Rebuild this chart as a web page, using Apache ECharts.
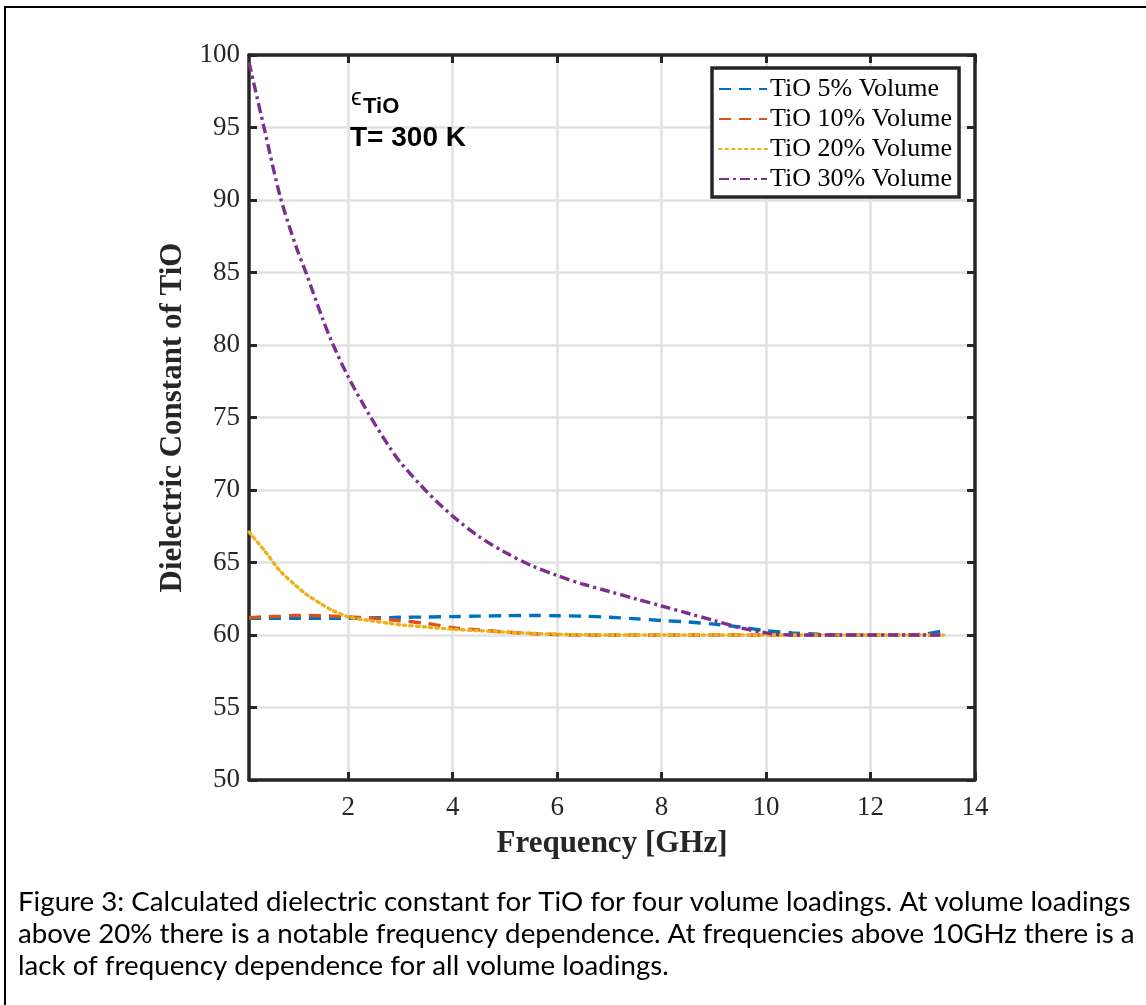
<!DOCTYPE html>
<html>
<head>
<meta charset="utf-8">
<script src="https://cdn.jsdelivr.net/npm/echarts@6/dist/echarts.min.js"></script>
<style>
  html, body { margin: 0; padding: 0; background: #fff; }
  #chart { width: 1146px; height: 1005px; }
</style>
</head>
<body>
<div id="chart"></div>
<script>
// ---- data ----
const freq = [0.1, 0.4, 0.7, 1.0, 1.2, 1.5, 1.7, 2.0, 2.4, 2.8, 3.0, 3.5, 4.0, 4.5, 5.0, 5.5, 6.0, 6.5, 7.0, 7.5, 8.0, 8.5, 9.0, 9.5, 10.0, 10.5, 11.0, 11.5, 12.0, 12.5, 13.0, 13.4];
const tio5  = [61.15, 61.15, 61.15, 61.15, 61.15, 61.15, 61.15, 61.15, 61.18, 61.2, 61.22, 61.24, 61.27, 61.3, 61.33, 61.35, 61.33, 61.3, 61.22, 61.12, 61.0, 60.9, 60.75, 60.55, 60.3, 60.15, 60.05, 60.0, 59.98, 60.0, 60.05, 60.3];
const tio10 = [61.2, 61.25, 61.3, 61.35, 61.35, 61.33, 61.3, 61.25, 61.18, 61.05, 60.98, 60.8, 60.5, 60.35, 60.2, 60.1, 60.03, 60.0, 60.0, 60.0, 60.0, 60.0, 60.0, 60.0, 60.0, 60.0, 60.0, 60.0, 60.0, 60.0, 60.0, 60.0];
const tio20 = [67.1, 65.8, 64.4, 63.4, 62.8, 62.1, 61.7, 61.25, 61.0, 60.8, 60.7, 60.55, 60.4, 60.3, 60.2, 60.12, 60.05, 60.02, 60.0, 60.0, 60.0, 60.0, 60.0, 60.0, 60.0, 60.0, 60.0, 60.0, 60.0, 60.0, 60.0, 60.0];
const tio30 = [99.5, 94.8, 90.2, 86.8, 84.9, 81.9, 80.1, 77.8, 75.2, 72.9, 71.9, 69.9, 68.2, 66.8, 65.7, 64.8, 64.1, 63.5, 63.0, 62.5, 62.0, 61.5, 61.0, 60.5, 60.15, 60.0, 60.0, 60.0, 60.0, 60.0, 60.0, 60.0];
const seriesNames = ['TiO 5% Volume', 'TiO 10% Volume', 'TiO 20% Volume', 'TiO 30% Volume'];
const xTicks = [2, 4, 6, 8, 10, 12, 14];
const captionLines = [
  'Figure 3: Calculated dielectric constant for TiO for four volume loadings. At volume loadings',
  'above 20% there is a notable frequency dependence. At frequencies above 10GHz there is a',
  'lack of frequency dependence for all volume loadings.'
];

const pairs = ys => freq.map((x, i) => [x, ys[i]]);
const axisColor = '#262626';
const serif = 'Liberation Serif';

const chart = echarts.init(document.getElementById('chart'));

const baseX = {
  type: 'value', min: 0.1, max: 14,
  axisLine: { show: true, onZero: false, lineStyle: { color: axisColor, width: 3.5 } },
  axisTick: { show: true, inside: true, length: 8, customValues: xTicks, lineStyle: { color: axisColor, width: 3 } }
};
const baseY = {
  type: 'value', min: 50, max: 100, interval: 5,
  axisLine: { show: true, onZero: false, lineStyle: { color: axisColor, width: 3.5 } },
  axisTick: { show: true, inside: true, length: 8, lineStyle: { color: axisColor, width: 3 } }
};

const colors = ['#0072BD', '#D95319', '#EDB120', '#7E2F8E'];
const dashes = [[12, 8], [12, 8], [2.5, 4], [10, 4, 3, 4]];
const datasets = [tio5, tio10, tio20, tio30];

chart.setOption({
  animation: false,
  backgroundColor: '#fff',
  grid: { left: 249, right: 171, top: 55, bottom: 225, containLabel: false },
  xAxis: [
    Object.assign({}, baseX, {
      position: 'bottom',
      name: 'Frequency [GHz]', nameLocation: 'middle', nameGap: 48,
      nameTextStyle: { fontFamily: serif, fontWeight: 'bold', fontSize: 31, color: axisColor },
      axisLabel: { show: true, customValues: xTicks, margin: 14, fontFamily: serif, fontSize: 27, color: axisColor },
      splitLine: { show: true, lineStyle: { color: '#e2e2e2', width: 2.5 } }
    }),
    Object.assign({}, baseX, {
      position: 'top',
      axisLabel: { show: false },
      splitLine: { show: false }
    })
  ],
  yAxis: [
    Object.assign({}, baseY, {
      position: 'left',
      name: 'Dielectric Constant of TiO', nameLocation: 'middle', nameGap: 43,
      nameTextStyle: { fontFamily: serif, fontWeight: 'bold', fontSize: 31, color: axisColor },
      axisLabel: { show: true, margin: 9, fontFamily: serif, fontSize: 27, color: axisColor },
      splitLine: { show: true, lineStyle: { color: '#e2e2e2', width: 2.5 } }
    }),
    Object.assign({}, baseY, {
      position: 'right',
      axisLabel: { show: false },
      splitLine: { show: false }
    })
  ],
  legend: {
    orient: 'vertical', left: 712, top: 68,
    data: seriesNames,
    itemWidth: 48, itemHeight: 26, itemGap: 4,
    padding: [8, 7, 5, 6],
    borderColor: axisColor, borderWidth: 3.5,
    backgroundColor: '#fff',
    itemStyle: { opacity: 0 },
    textStyle: { fontFamily: serif, fontSize: 26, color: '#000', padding: [0, 0, 0, -2] }
  },
  series: seriesNames.map((n, i) => ({
    name: n, type: 'line', data: pairs(datasets[i]),
    xAxisIndex: 0, yAxisIndex: 0,
    symbol: 'none', smooth: 0.3,
    lineStyle: { color: colors[i], width: 3.4, type: dashes[i], cap: i === 2 ? 'round' : 'butt' },
    itemStyle: { color: colors[i] },
    z: 3 + i
  })),
  graphic: [
    { type: 'rect', shape: { x: 5, y: 7, width: 1300, height: 1200 }, style: { fill: null, stroke: '#000', lineWidth: 2 }, z: 0, silent: true },
    { type: 'text', left: 351, top: 86, style: { text: 'ϵ', font: '24px "Liberation Sans"', fill: '#000' }, z: 10 },
    { type: 'text', left: 363, top: 96, style: { text: 'TiO', font: 'bold 22px "Liberation Sans"', fill: '#000' }, z: 10 },
    { type: 'text', left: 350, top: 124, style: { text: 'T= 300 K', font: 'bold 28px "Liberation Sans"', fill: '#000' }, z: 10 }
  ].concat(captionLines.map((t, i) => ({
    type: 'text', left: 18, top: 888 + i * 32,
    style: { text: t, font: '27.7px Lato', fill: '#000' }, z: 10
  })))
});
</script>
</body>
</html>
